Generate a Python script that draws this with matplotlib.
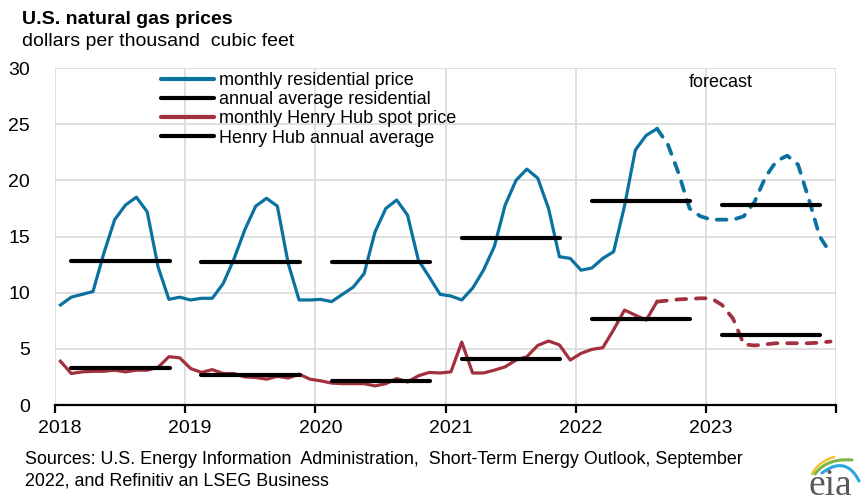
import matplotlib
matplotlib.use("Agg")
import matplotlib.pyplot as plt
import matplotlib.transforms as mtransforms
import numpy as np

plt.rcParams['font.family'] = ['Liberation Sans', 'DejaVu Sans']

# *****  Data  *****
years = [2018, 2019, 2020, 2021, 2022, 2023]
n_actual = 56  # Jan 2018 .. Aug 2022 are history, the rest is forecast

residential = [
    8.9, 9.6, 9.85, 10.1, 13.5, 16.5, 17.8, 18.5, 17.2, 12.3, 9.4, 9.6,
    9.35, 9.5, 9.5, 10.8, 13.0, 15.6, 17.7, 18.4, 17.7, 12.6, 9.35, 9.35,
    9.4, 9.2, 9.85, 10.5, 11.7, 15.4, 17.5, 18.25, 16.9, 12.9, 11.4, 9.85,
    9.7, 9.35, 10.4, 12.0, 14.1, 17.8, 20.0, 21.0, 20.2, 17.5, 13.2, 13.05,
    12.0, 12.2, 13.05, 13.65, 17.7, 22.7, 24.0, 24.6, 23.2, 20.6, 17.5, 16.8,
    16.5, 16.5, 16.5, 16.8, 18.1, 20.3, 21.7, 22.2, 21.4, 18.3, 15.0, 13.5,
]
henry_hub = [
    3.9, 2.8, 2.95, 3.0, 3.0, 3.1, 2.95, 3.1, 3.1, 3.35, 4.3, 4.2,
    3.25, 2.9, 3.15, 2.8, 2.8, 2.5, 2.45, 2.3, 2.55, 2.4, 2.75, 2.3,
    2.15, 1.95, 1.9, 1.9, 1.9, 1.7, 1.9, 2.35, 2.05, 2.6, 2.9, 2.85,
    2.95, 5.6, 2.85, 2.85, 3.1, 3.4, 4.0, 4.3, 5.3, 5.7, 5.35, 4.0,
    4.6, 4.95, 5.1, 6.7, 8.45, 8.0, 7.55, 9.2, 9.3, 9.4, 9.45, 9.5,
    9.5, 8.9, 7.7, 5.4, 5.3, 5.4, 5.5, 5.5, 5.5, 5.5, 5.55, 5.65,
]
residential_annual = [12.8, 12.7, 12.7, 14.9, 18.2, 17.8]
henry_hub_annual = [3.3, 2.65, 2.15, 4.1, 7.65, 6.25]

labels = ["monthly residential price", "annual average residential",
          "monthly Henry Hub spot price", "Henry Hub annual average"]

blue = "#0b72a0"
red = "#a2303e"
grid_grey = "#d9d9d9"

# month mid-points as decimal years
x_month = years[0] + (np.arange(len(residential)) + 0.5) / 12

fig = plt.figure(figsize=(8.65, 5.04), dpi=100)
ax = fig.add_axes([55 / 865, 1 - 405 / 504, 781 / 865, 337 / 504])

dash = dict(linestyle=(0, (2.6, 2.6)), dash_capstyle="round")

# residential
ax.plot(x_month[:n_actual], residential[:n_actual], color=blue, lw=2.3,
        solid_joinstyle="round", zorder=3)
ax.plot(x_month[n_actual - 1:], residential[n_actual - 1:], color=blue, lw=2.7,
        zorder=3, **dash)
# henry hub
ax.plot(x_month[:n_actual], henry_hub[:n_actual], color=red, lw=2.3,
        solid_joinstyle="round", zorder=3)
ax.plot(x_month[n_actual - 1:], henry_hub[n_actual - 1:], color=red, lw=2.7,
        zorder=3, **dash)

# annual averages
for yr, r_avg, h_avg in zip(years, residential_annual, henry_hub_annual):
    ax.plot([yr + 0.125, yr + 0.88], [r_avg, r_avg], color="black", lw=3,
            solid_capstyle="round", zorder=4)
    ax.plot([yr + 0.125, yr + 0.88], [h_avg, h_avg], color="black", lw=3,
            solid_capstyle="round", zorder=4)

ax.set_xlim(2018, 2024)
ax.set_ylim(0, 30)
ax.set_yticks(np.arange(0, 31, 5))
ax.set_xticks(years + [2024])
ax.set_xticklabels([str(y) for y in years] + [""])

# gridlines
for yv in range(5, 31, 5):
    ax.axhline(yv, color=grid_grey, lw=1.2, zorder=1)
for xv in years + [2024]:
    ax.axvline(xv, color=grid_grey, lw=1.2, zorder=1)

for side in ["top", "right", "left"]:
    ax.spines[side].set_visible(False)
ax.spines["bottom"].set_linewidth(1.6)
ax.spines["bottom"].set_zorder(5)
ax.tick_params(axis="y", length=0, pad=18, labelsize=14)
ax.tick_params(axis="x", direction="out", length=6, width=1.6, pad=5,
               labelsize=14)
offset = mtransforms.ScaledTranslation(5 / 100, 0, fig.dpi_scale_trans)
for lab in ax.get_xticklabels():
    lab.set_transform(lab.get_transform() + offset)

# legend
handles = [
    plt.Line2D([], [], color=blue, lw=3, solid_capstyle="round"),
    plt.Line2D([], [], color="black", lw=3, solid_capstyle="round"),
    plt.Line2D([], [], color=red, lw=3, solid_capstyle="round"),
    plt.Line2D([], [], color="black", lw=3, solid_capstyle="round"),
]
ax.legend(handles, labels, loc="upper left", bbox_to_anchor=(0.136, 0.988),
          frameon=False, fontsize=13, handlelength=2.9, handletextpad=0.28,
          labelspacing=0.12, borderpad=0, borderaxespad=0)

ax.text(2023.116, 28.67, "forecast", fontsize=13, ha="center", va="center")

# titles
fig.text(22 / 865, 1 - 19 / 504, "U.S. natural gas prices", fontsize=14,
         fontweight="bold", va="center")
fig.text(22 / 865, 1 - 42 / 504, "dollars per thousand  cubic feet",
         fontsize=14, va="center")

# source
fig.text(25 / 865, 1 - 460 / 504,
         "Sources: U.S. Energy Information  Administration,  Short-Term Energy Outlook, September",
         fontsize=12.9, va="center")
fig.text(25 / 865, 1 - 481 / 504, "2022, and Refinitiv an LSEG Business",
         fontsize=12.9, va="center")

# eia logo, drawn in pixel coordinates of the figure corner
lax = fig.add_axes([800 / 865, 0, 65 / 865, 54 / 504])
lax.set_xlim(800, 865)
lax.set_ylim(504, 450)
lax.axis("off")
lax.text(830, 486, "eia", fontsize=27, family="Liberation Serif",
         color="#58595b", ha="center", va="center")
t = np.linspace(0, 1, 40)


def swoosh(p0, p1, p2, color, lw):
    bx = (1 - t) ** 2 * p0[0] + 2 * (1 - t) * t * p1[0] + t ** 2 * p2[0]
    by = (1 - t) ** 2 * p0[1] + 2 * (1 - t) * t * p1[1] + t ** 2 * p2[1]
    lax.plot(bx, by, color=color, lw=lw, solid_capstyle="round")


swoosh((812, 474), (818, 462), (834, 457), "#f2c12e", 1.8)
swoosh((815, 474), (827, 458), (852, 460), "#7ab648", 2.2)
swoosh((822, 473), (846, 455), (859, 481), "#29a8e0", 2.2)

fig.savefig("out.png", dpi=100)
